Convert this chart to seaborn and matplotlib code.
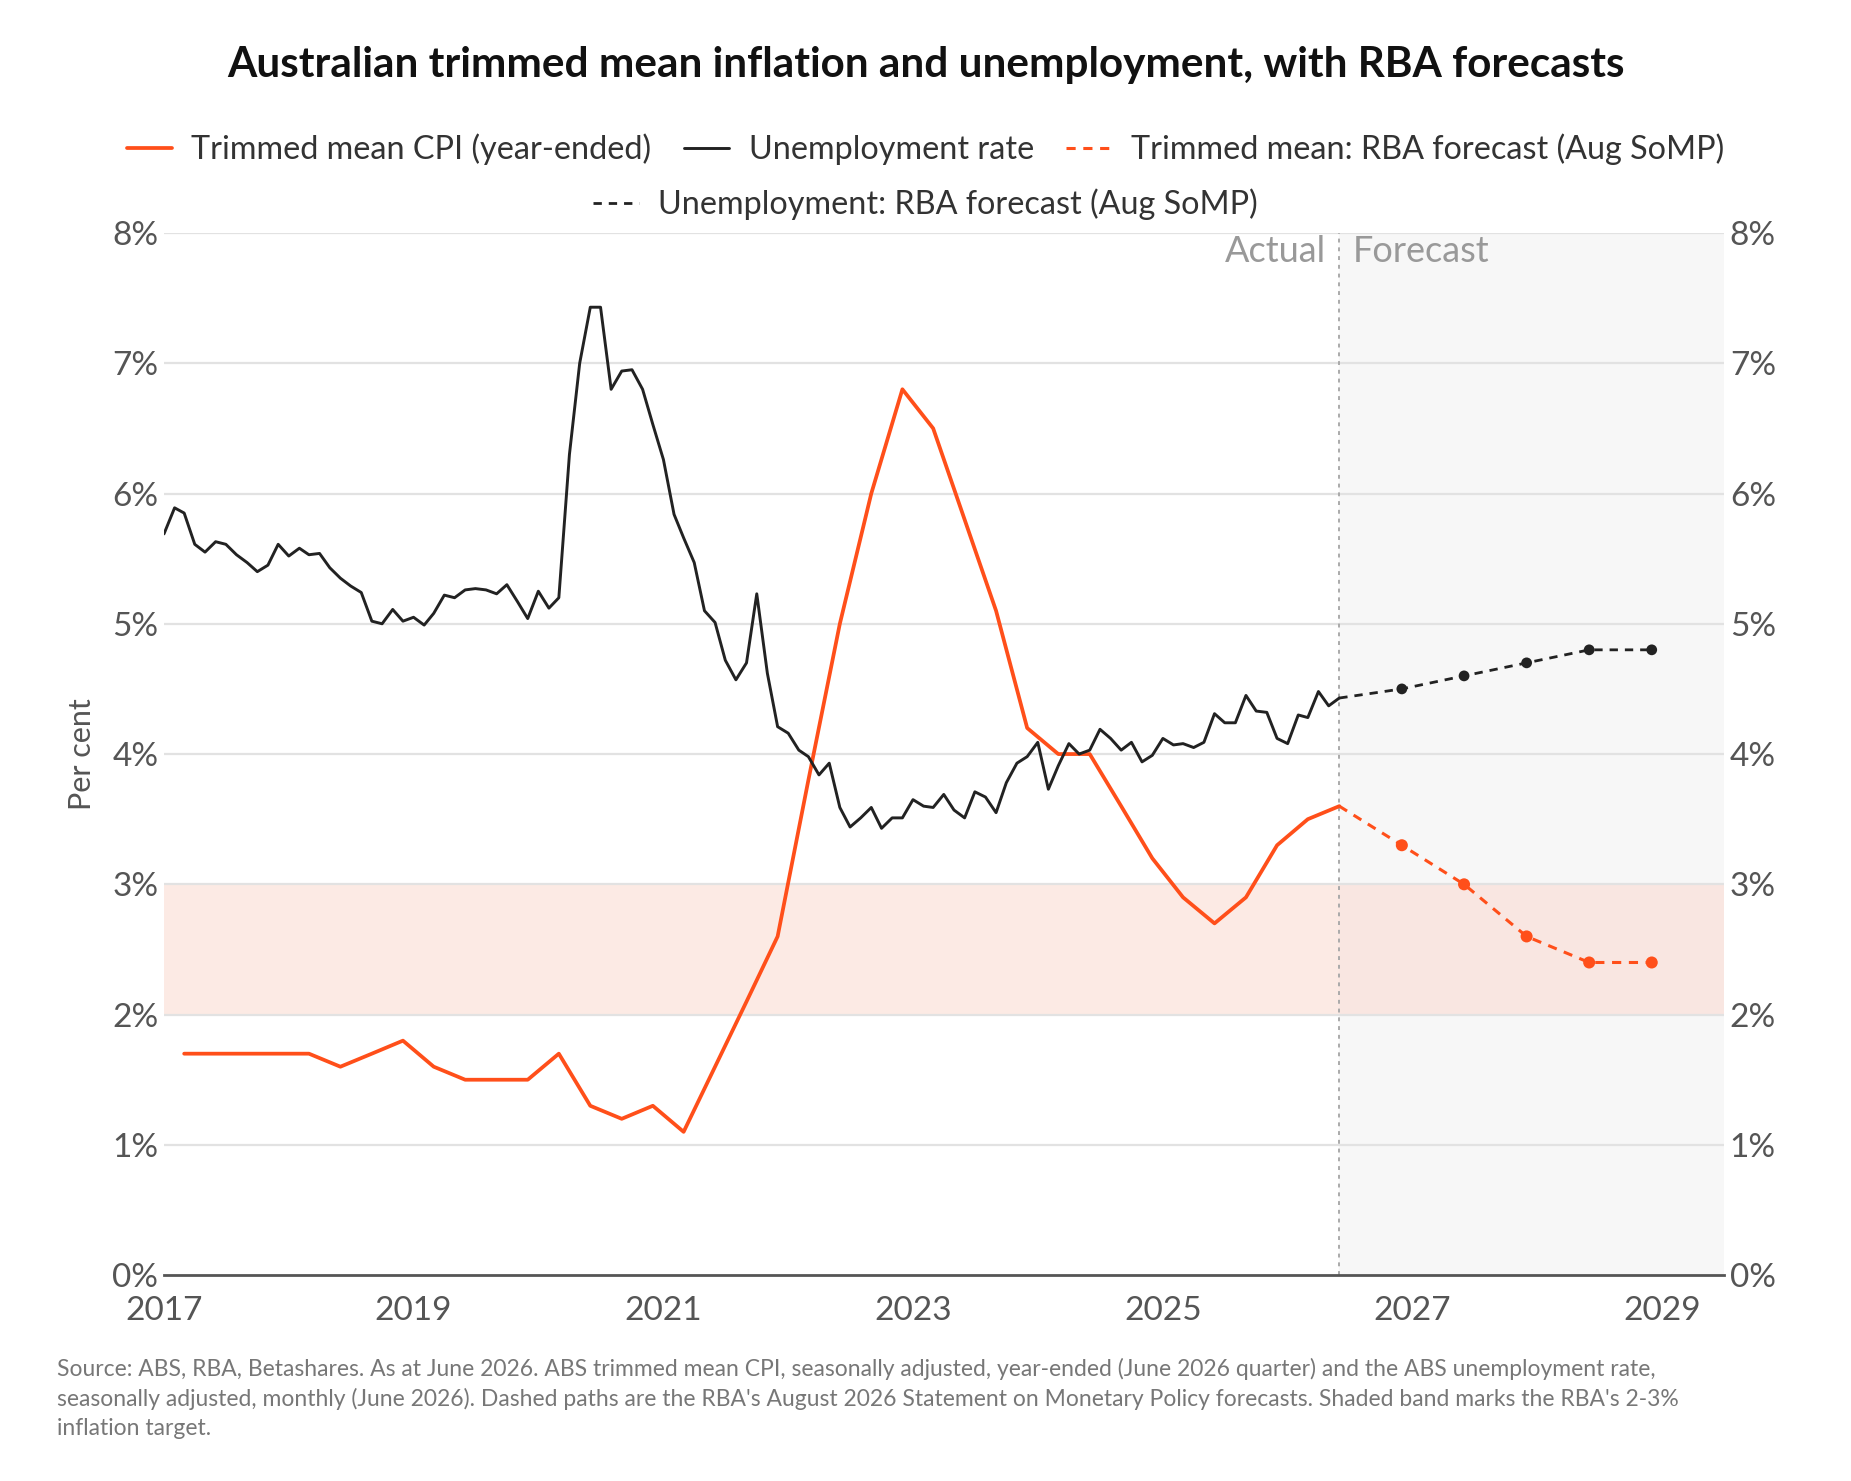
import pandas as pd
import matplotlib.pyplot as plt
import seaborn as sns

# data
cpi_values = [1.7, 1.7, 1.7, 1.7, 1.7, 1.6, 1.7, 1.8, 1.6, 1.5, 1.5, 1.5,
              1.7, 1.3, 1.2, 1.3, 1.1, 1.6, 2.1, 2.6, 3.8, 5.0, 6.0, 6.8,
              6.5, 5.8, 5.1, 4.2, 4.0, 4.0, 3.6, 3.2, 2.9, 2.7, 2.9, 3.3,
              3.5, 3.6]
unemp_values = [5.69, 5.89, 5.85, 5.61, 5.55, 5.63, 5.61, 5.53, 5.47, 5.40, 5.45, 5.61,
                5.52, 5.58, 5.53, 5.54, 5.43, 5.35, 5.29, 5.24, 5.02, 5.00, 5.11, 5.02,
                5.05, 4.99, 5.08, 5.22, 5.20, 5.26, 5.27, 5.26, 5.23, 5.30, 5.17, 5.04,
                5.25, 5.12, 5.20, 6.30, 7.00, 7.43, 7.43, 6.80, 6.94, 6.95, 6.80, 6.53,
                6.26, 5.84, 5.66, 5.47, 5.10, 5.01, 4.72, 4.57, 4.70, 5.23, 4.62, 4.21,
                4.16, 4.03, 3.98, 3.84, 3.93, 3.59, 3.44, 3.51, 3.59, 3.43, 3.51, 3.51,
                3.65, 3.60, 3.59, 3.69, 3.57, 3.51, 3.71, 3.67, 3.55, 3.78, 3.93, 3.98,
                4.09, 3.73, 3.91, 4.08, 4.00, 4.03, 4.19, 4.12, 4.03, 4.09, 3.94, 3.99,
                4.12, 4.07, 4.08, 4.05, 4.09, 4.31, 4.24, 4.24, 4.45, 4.33, 4.32, 4.12,
                4.08, 4.30, 4.28, 4.48, 4.37, 4.43]
cpi_fc_values = [3.6, 3.3, 3.0, 2.6, 2.4, 2.4]
unemp_fc_values = [4.43, 4.5, 4.6, 4.7, 4.8, 4.8]
year_ticks = [2017, 2019, 2021, 2023, 2025, 2027, 2029]
pct_ticks = [0, 1, 2, 3, 4, 5, 6, 7, 8]

cpi = pd.DataFrame({'date': pd.date_range('2017-03-01', periods=len(cpi_values), freq='3MS'),
                    'value': cpi_values})
unemp = pd.DataFrame({'date': pd.date_range('2017-01-01', periods=len(unemp_values), freq='MS'),
                      'value': unemp_values})
fc_dates = pd.date_range('2026-06-01', periods=len(cpi_fc_values), freq='6MS')
cpi_fc = pd.DataFrame({'date': fc_dates, 'value': cpi_fc_values})
unemp_fc = pd.DataFrame({'date': fc_dates, 'value': unemp_fc_values})

ORANGE = '#ff4f1a'
BLACK = '#222222'
GREY = '#555555'

sns.set_theme(style='white')
plt.rcParams['font.family'] = ['Lato', 'DejaVu Sans']

fig = plt.figure(figsize=(18.51, 14.81), dpi=100)
ax = fig.add_axes([0.0886, 0.139, 0.9315 - 0.0886, 0.8427 - 0.139])

split = pd.Timestamp('2026-06-01')
x0, x1 = pd.Timestamp('2017-01-01'), pd.Timestamp('2029-07-01')

ax.axvspan(split, x1, color='#f7f7f7', zorder=0)
ax.axhspan(2, 3, color='#fbd9cf', alpha=0.55, zorder=0.5, lw=0)
for v in pct_ticks[1:]:
    ax.axhline(v, color='#e2e2e2', lw=1.6, zorder=0.6)
ax.axvline(split, color='#aaaaaa', lw=1.4, ls=(0, (2, 2.5)), zorder=0.7)

sns.lineplot(data=cpi, x='date', y='value', color=ORANGE, lw=2.7, ax=ax,
             label='Trimmed mean CPI (year-ended)')
sns.lineplot(data=unemp, x='date', y='value', color=BLACK, lw=2.1, ax=ax,
             label='Unemployment rate')
sns.lineplot(data=cpi_fc, x='date', y='value', color=ORANGE, lw=2.2, ax=ax,
             linestyle=(0, (3, 2.5)), label='Trimmed mean: RBA forecast (Aug SoMP)')
sns.lineplot(data=unemp_fc, x='date', y='value', color=BLACK, lw=2.0, ax=ax,
             linestyle=(0, (3, 2.5)), label='Unemployment: RBA forecast (Aug SoMP)')
sns.scatterplot(data=cpi_fc.iloc[1:], x='date', y='value', color=ORANGE, s=75,
                edgecolor='none', ax=ax, legend=False, zorder=5)
sns.scatterplot(data=unemp_fc.iloc[1:], x='date', y='value', color=BLACK, s=60,
                edgecolor='none', ax=ax, legend=False, zorder=5)

handles, labels = ax.get_legend_handles_labels()
ax.get_legend().remove()

ax.set_xlim(x0, x1)
ax.set_ylim(0, 8)
ax.set_xticks([pd.Timestamp(f'{y}-01-01') for y in year_ticks])
ax.set_xticklabels([str(y) for y in year_ticks])
ax.set_yticks(pct_ticks)
ax.set_yticklabels([f'{v}%' for v in pct_ticks])
ax.tick_params(axis='both', length=0, labelsize=24, labelcolor=GREY)
ax.tick_params(axis='x', pad=15)
ax.tick_params(axis='y', pad=4, labelright=True)
ax.set_xlabel('')
ax.set_ylabel('Per cent', fontsize=22, color=GREY, labelpad=12)
for s in ['top', 'right', 'left']:
    ax.spines[s].set_visible(False)
ax.spines['bottom'].set_color('#555555')
ax.spines['bottom'].set_linewidth(2)

ax.text(split - pd.Timedelta(days=40), 7.86, 'Actual', ha='right', va='center',
        fontsize=26, color='#999999')
ax.text(split + pd.Timedelta(days=40), 7.86, 'Forecast', ha='left', va='center',
        fontsize=26, color='#999999')

fig.text(0.5, 0.956, 'Australian trimmed mean inflation and unemployment, with RBA forecasts',
         ha='center', va='center', fontsize=30.4, fontweight='bold', color='#111111')

leg_kw = dict(frameon=False, fontsize=23.3, handlelength=1.4, handletextpad=0.6,
              columnspacing=1.0, labelcolor='#333333')
fig.legend(handles[:3], labels[:3], loc='center', bbox_to_anchor=(0.5, 0.899),
           ncol=3, **leg_kw)
fig.legend(handles[3:], labels[3:], loc='center', bbox_to_anchor=(0.5, 0.862), **leg_kw)

note = ("Source: ABS, RBA, Betashares. As at June 2026. ABS trimmed mean CPI, seasonally adjusted, "
        "year-ended (June 2026 quarter) and the ABS unemployment rate,\n"
        "seasonally adjusted, monthly (June 2026). Dashed paths are the RBA's August 2026 Statement "
        "on Monetary Policy forecasts. Shaded band marks the RBA's 2-3%\n"
        "inflation target.")
fig.text(0.031, 0.083, note, ha='left', va='top', fontsize=16.5, color='#777777',
         linespacing=1.45)

fig.savefig('out.png', dpi=100)
